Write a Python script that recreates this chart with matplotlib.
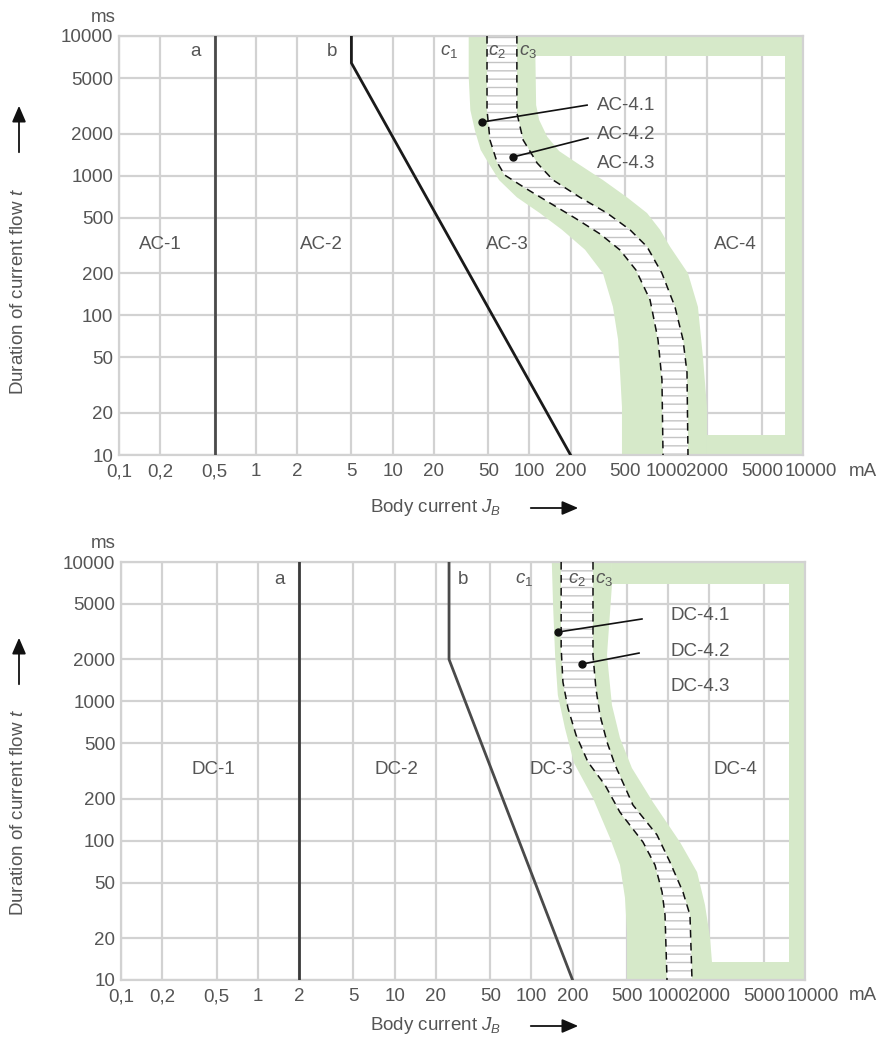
import numpy as np
import matplotlib
matplotlib.use('Agg')
import matplotlib.pyplot as plt
import matplotlib.transforms as mtransforms
from matplotlib.patches import FancyArrowPatch
from matplotlib.ticker import FixedLocator, FixedFormatter, NullLocator

plt.rcParams['font.family'] = ['Liberation Sans', 'DejaVu Sans']
plt.rcParams['mathtext.fontset'] = 'custom'
plt.rcParams['mathtext.rm'] = 'Liberation Sans'
plt.rcParams['mathtext.it'] = 'Liberation Sans:italic'
plt.rcParams['hatch.linewidth'] = 1.0

# axis ticks
x_ticks = [0.1, 0.2, 0.5, 1, 2, 5, 10, 20, 50, 100, 200, 500, 1000, 2000, 5000, 10000]
x_labels = ['0,1', '0,2', '0,5', '1', '2', '5', '10', '20', '50', '100', '200',
            '500', '1000', '2000', '5000', '10000']
y_ticks = [10, 20, 50, 100, 200, 500, 1000, 2000, 5000, 10000]

# --- AC zones (mA, ms) ---
ac_a_ma = [0.5, 0.5]
ac_a_ms = [10, 10000]
ac_b_ma = [5, 5, 200]
ac_b_ms = [10000, 6400, 10]
# outer edge of the c1 band
ac_c1_ma = [36, 36, 37, 40, 44, 51, 60, 81, 119, 173, 255, 345, 408, 445, 460, 475, 475]
ac_c1_ms = [10000, 5100, 2950, 2100, 1530, 1200, 930, 700, 540, 410, 295, 200, 115, 67, 39, 22, 10]
# dashed c2
ac_c2_ma = [49, 49, 51.5, 58, 66, 93, 141, 215, 328, 459, 601, 762, 871, 931, 948]
ac_c2_ms = [10000, 2950, 1800, 1250, 1010, 816, 638, 498, 383, 294, 211, 129, 67, 34.5, 10]
# dashed c3
ac_c3_ma = [81, 81, 90, 114, 149, 234, 369, 543, 724, 931, 1159, 1327, 1419, 1443]
ac_c3_ms = [10000, 2810, 1800, 1230, 930, 700, 540, 410, 310, 200, 115, 67, 39, 10]
# outer edge of the c3 band
ac_c4_ma = [110, 112, 118, 135, 165, 223, 345, 517, 724, 902, 1067, 1443, 1706, 1857, 1986, 1986]
ac_c4_ms = [10000, 3200, 2500, 1900, 1500, 1230, 930, 700, 540, 410, 310, 200, 115, 50, 22, 10]
ac_frame = [7200, 7400, 14]   # top band ms, right band mA, bottom band ms

# --- DC zones (mA, ms) ---
dc_a_ma = [2, 2]
dc_a_ms = [10, 10000]
dc_b_ma = [25, 25, 200]
dc_b_ms = [10000, 2000, 10]
dc_c1_ma = [141, 144, 149, 156, 176, 205, 282, 376, 444, 483, 500, 500]
dc_c1_ms = [10000, 4900, 2150, 1110, 640, 360, 202, 104, 67, 39, 22, 10]
dc_c2_ma = [165, 165, 170, 185, 212, 259, 345, 444, 654, 801, 902, 948, 980]
dc_c2_ms = [10000, 2414, 1376, 895, 573, 367, 251, 160, 97.7, 66.8, 42.8, 29.2, 10]
dc_c3_ma = [282, 282, 296, 317, 357, 409, 553, 828, 1030, 1282, 1443, 1493]
dc_c3_ms = [10000, 2149, 1246, 798, 511, 349, 180, 110, 70.2, 42.8, 29.2, 10]
dc_c4_ma = [388, 388, 357, 388, 444, 543, 774, 1219, 1626, 1859, 2023, 2090, 2090]
dc_c4_ms = [10000, 6840, 2149, 940, 546, 332, 189, 97.7, 59.5, 34.5, 20, 13.4, 10]
dc_frame = [6900, 7600, 13.5]

GREEN = '#d6e9c9'
GRID = '#d2d2d2'
TXT = '#555555'
FS = 13.5


def band(ax, xl, yl, xr, yr, **kw):
    xs = list(xl) + list(xr)[::-1]
    ys = list(yl) + list(yr)[::-1]
    ax.fill(xs, ys, **kw)


def panel(rect, a, b, c1, c2, c3, c4, frame, line_colors, zone_names, ann):
    ax = fig.add_axes(rect)
    ax.set_xscale('log')
    ax.set_yscale('log')
    ax.set_xlim(0.1, 10000)
    ax.set_ylim(10, 10000)
    ax.xaxis.set_major_locator(FixedLocator(x_ticks))
    ax.xaxis.set_major_formatter(FixedFormatter(x_labels))
    ax.xaxis.set_minor_locator(NullLocator())
    ax.yaxis.set_major_locator(FixedLocator(y_ticks))
    ax.yaxis.set_major_formatter(FixedFormatter([str(v) for v in y_ticks]))
    ax.yaxis.set_minor_locator(NullLocator())
    ax.tick_params(length=0, labelsize=FS, labelcolor=TXT)
    ax.tick_params(axis='x', pad=6)
    ax.tick_params(axis='y', pad=4)
    ax.grid(True, color=GRID, lw=1.6)
    ax.set_axisbelow(True)
    for s in ax.spines.values():
        s.set_color(GRID)
        s.set_linewidth(1.6)

    # green bands, hatched c2-c3 strip and the zone-4 frame
    band(ax, c1[0], c1[1], c2[0], c2[1], color=GREEN, lw=0, zorder=1)
    band(ax, c3[0], c3[1], c4[0], c4[1], color=GREEN, lw=0, zorder=1)
    band(ax, c2[0], c2[1], c3[0], c3[1], facecolor='white', edgecolor='#c4c4c4',
         hatch='--', lw=0, zorder=1)
    top, right, bottom = frame
    ax.fill([c4[0][0], 20000, 20000, c4[0][0]], [top, top, 20000, 20000],
            color=GREEN, lw=0, zorder=1)
    ax.fill([right, 20000, 20000, right], [5, 5, 20000, 20000], color=GREEN, lw=0, zorder=1)
    ax.fill([c4[0][-1], 20000, 20000, c4[0][-1]], [5, 5, bottom, bottom],
            color=GREEN, lw=0, zorder=1)
    ax.plot(c2[0], c2[1], color='#111111', lw=1.1, dashes=(5, 3.5), zorder=3)
    ax.plot(c3[0], c3[1], color='#111111', lw=1.1, dashes=(5, 3.5), zorder=3)

    ax.plot(a[0], a[1], color=line_colors[0], lw=2.0, zorder=3)
    ax.plot(b[0], b[1], color=line_colors[1], lw=2.0, zorder=3)

    # curve letters
    ya = ann['ylet']
    ax.text(ann['a'], ya, 'a', ha='center', va='center', fontsize=FS, color=TXT)
    ax.text(ann['b'], ya, 'b', ha='center', va='center', fontsize=FS, color=TXT)
    for xx, lab in zip(ann['c'], ['$c_1$', '$c_2$', '$c_3$']):
        ax.text(xx, ya, lab, ha='center', va='center', fontsize=FS, color=TXT)

    # zone names
    for xx, lab in zip(ann['zones'], zone_names[:4]):
        ax.text(xx, ann['yzone'], lab, ha='center', va='center', fontsize=FS, color=TXT)

    # sub-zone callouts
    for (dx, dy, ex, ey) in ann['leaders']:
        ax.plot([dx, ex], [dy, ey], color='#111111', lw=1.2, zorder=4)
        ax.plot([dx], [dy], 'o', color='#111111', ms=5, zorder=4)
    for yy, lab in zip(ann['subs_y'], zone_names[4:]):
        ax.text(ann['subs_x'], yy, lab, ha='left', va='center', fontsize=FS, color=TXT)

    # nudge the last x label clear of "5000"
    last = ax.get_xticklabels()[-1]
    last.set_transform(last.get_transform() +
                       mtransforms.ScaledTranslation(0.08, 0, fig.dpi_scale_trans))
    return ax


fig = plt.figure(figsize=(8.78, 10.37), dpi=100)

ac_ann = {
    'ylet': 7800, 'a': 0.36, 'b': 3.6, 'c': [26, 58, 98],
    'zones': [0.2, 3.0, 69, 3200], 'yzone': 324,
    'leaders': [(45, 2420, 264, 3200), (76, 1360, 268, 1860)],
    'subs_x': 312, 'subs_y': [3200, 1960, 1230],
}
panel([119 / 878, 1 - 455 / 1037, 684 / 878, 419 / 1037],
      (ac_a_ma, ac_a_ms), (ac_b_ma, ac_b_ms),
      (ac_c1_ma, ac_c1_ms), (ac_c2_ma, ac_c2_ms), (ac_c3_ma, ac_c3_ms), (ac_c4_ma, ac_c4_ms),
      ac_frame, ['#4a4a4a', '#1a1a1a'],
      ['AC-1', 'AC-2', 'AC-3', 'AC-4', 'AC-4.1', 'AC-4.2', 'AC-4.3'], ac_ann)

dc_ann = {
    'ylet': 7430, 'a': 1.45, 'b': 31.6, 'c': [88, 215, 340],
    'zones': [0.47, 10.4, 141, 3080], 'yzone': 326,
    'leaders': [(156, 3140, 643, 3900), (234, 1850, 612, 2220)],
    'subs_x': 1047, 'subs_y': [4100, 2260, 1270],
}
panel([121 / 878, 1 - 980 / 1037, 684 / 878, 418 / 1037],
      (dc_a_ma, dc_a_ms), (dc_b_ma, dc_b_ms),
      (dc_c1_ma, dc_c1_ms), (dc_c2_ma, dc_c2_ms), (dc_c3_ma, dc_c3_ms), (dc_c4_ma, dc_c4_ms),
      dc_frame, ['#3a3a3a', '#4a4a4a'],
      ['DC-1', 'DC-2', 'DC-3', 'DC-4', 'DC-4.1', 'DC-4.2', 'DC-4.3'], dc_ann)


def fx(px):
    return px / 878


def fy(py):
    return 1 - py / 1037


def arrow(x0, y0, x1, y1):
    fig.add_artist(FancyArrowPatch(
        (fx(x0), fy(y0)), (fx(x1), fy(y1)), transform=fig.transFigure,
        arrowstyle='-|>,head_length=6.5,head_width=2.8', mutation_scale=1.5,
        color='#111111', lw=1.3))


# axis titles, units and direction arrows: (ms y, mA y, title y, x-title y, up-arrow top)
for ms_y, ma_y, yl_y, xl_y, up_y in ((17, 472, 292, 507, 103), (543, 995, 813, 1025, 635)):
    fig.text(fx(103), fy(ms_y), 'ms', ha='center', va='center', fontsize=FS, color=TXT)
    fig.text(fx(863), fy(ma_y), 'mA', ha='center', va='center', fontsize=FS, color=TXT)
    fig.text(fx(19), fy(yl_y), 'Duration of current flow $t$', rotation=90,
             ha='center', va='center', fontsize=FS, color=TXT)
    fig.text(fx(436), fy(xl_y), 'Body current $J_B$', ha='center', va='center',
             fontsize=FS, color=TXT)
    arrow(19, up_y + 52, 19, up_y)
    arrow(528, xl_y + 1, 581, xl_y + 1)

fig.savefig('out.png', dpi=100)
